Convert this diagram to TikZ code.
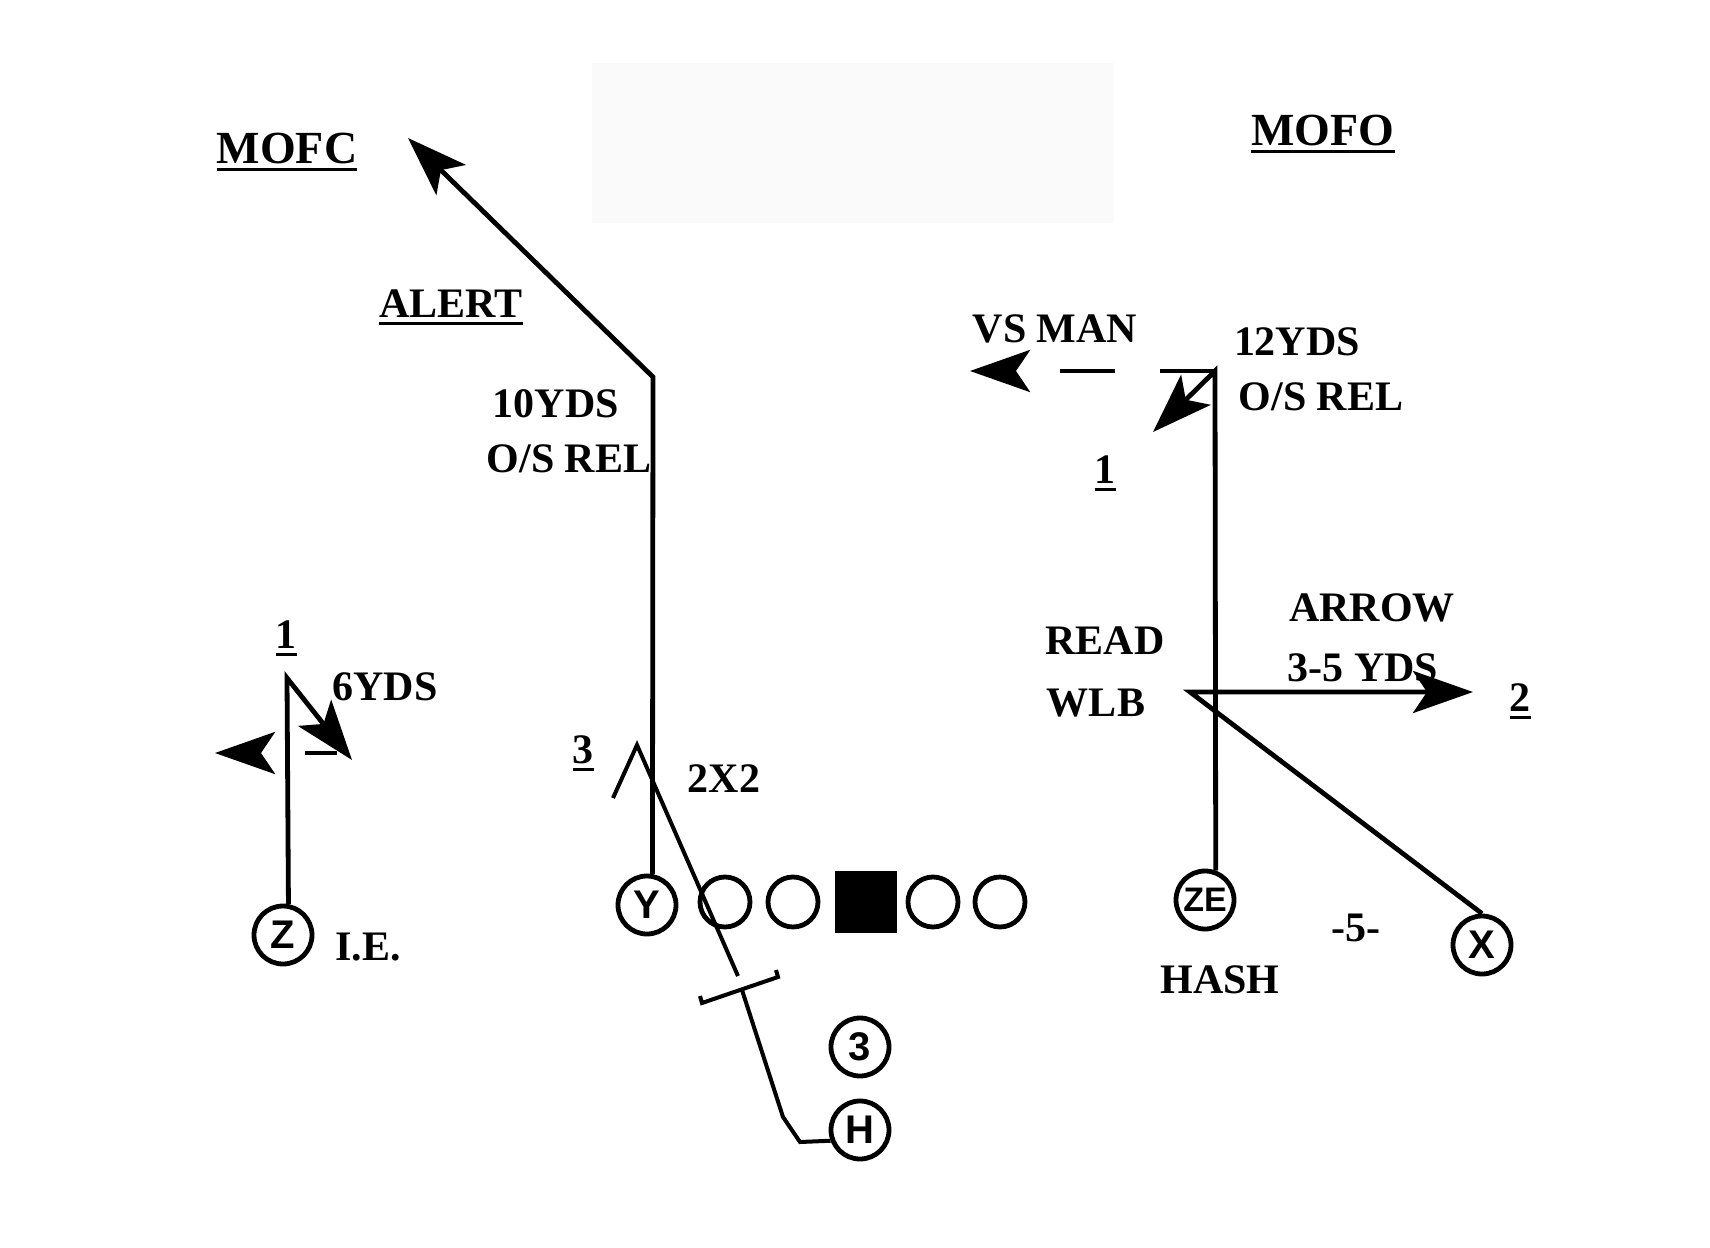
\documentclass[tikz,border=0pt]{standalone}
\usepackage{fontspec}
\setmainfont{Liberation Serif}
\setsansfont{Liberation Sans}
\usetikzlibrary{arrows.meta}
\newcommand\ulbl[1]{\setbox0\hbox{#1}\rlap{\rule[-4pt]{\wd0}{1.5pt}}\box0}

\begin{document}
\begin{tikzpicture}[x=0.5pt,y=-0.5pt,
  route/.style={line width=2.4pt},
  thinroute/.style={line width=2pt},
  bigarrow/.style={-{Stealth[length=30pt,width=21pt,inset=7pt]}},
  lbl/.style={anchor=base,inner sep=0pt,font=\fontsize{21}{25}\selectfont\bfseries},
  head/.style={lbl,font=\fontsize{23}{27}\selectfont\bfseries},
  player/.style={circle,draw,line width=2.4pt,minimum size=29pt,inner sep=0pt,
    font=\sffamily\bfseries\fontsize{20}{22}\selectfont},
  lineman/.style={circle,draw,line width=2.4pt,minimum size=25pt,inner sep=0pt}]
\useasboundingbox (0,0) rectangle (1710,1248);
\fill[black!2] (592,63) rectangle (1114,223);

% formation
\node[player] (Z) at (283,935) {Z};
\node[player] (Y) at (647,905) {Y};
\foreach \x/\n in {725/lg,793/lt,933/rt,1000/rg}
  \node[lineman] (\n) at (\x,902) {};
\node[fill,minimum size=31pt,inner sep=0pt] (C) at (866,902) {};
\node[player] (B) at (860,1047) {3};
\node[player] (H) at (860,1130) {H};
\node[player,font=\sffamily\bfseries\fontsize{17}{19}\selectfont] (ZE) at (1205,900) {ZE};
\node[player] (X) at (1482,945) {X};

% Z
\coordinate (zbreak) at (287,678);
\coordinate (ztip) at (352,760);
\coordinate (zdash) at (337,753);
\coordinate (zleft) at (215,753);
\draw[route,bigarrow] (Z.80) -- (zbreak) -- (ztip);
\draw[route,bigarrow,dash pattern=on 16pt off 60pt] (zdash) -- (zleft);

% Y
\coordinate (ybreak) at (653,377);
\coordinate (ytip) at (408,138);
\draw[route,bigarrow] (Y.80) -- (ybreak) -- (ytip);

% H
\coordinate (hleft) at (800,1142);
\coordinate (hup) at (783,1117);
\coordinate (hblock) at (742,990);
\coordinate (hend) at (738,976);
\coordinate (happex) at (637,745);
\coordinate (hback) at (613,798);
\draw[thinroute] (H.200) -- (hleft) -- (hup) -- (hblock);
\draw[thinroute] (700,996) -- (702,1003) -- (778,977) -- (776,970);
\draw[thinroute] (hend) -- (happex) -- (hback);

% ZE
\coordinate (zebreak) at (1215,371);
\coordinate (zetip) at (1153,432);
\coordinate (vstip) at (970,371);
\draw[route,bigarrow] (ZE.70) -- (zebreak) -- (zetip);
\draw[route,bigarrow,dash pattern=on 27.5pt off 22.5pt] (zebreak) -- (vstip);

% X
\coordinate (xbreak) at (1190,692);
\coordinate (xtip) at (1473,692);
\draw[route,bigarrow] (X.north) -- (xbreak) -- (xtip);

% labels
\node[head] (mofc) at (287,163) {\ulbl{MOFC}};
\node[head] (mofo) at (1323,145) {\ulbl{MOFO}};
\node[lbl] (alert) at (451,317) {\ulbl{ALERT}};
\node[lbl] (ydsY) at (556,417) {10YDS};
\node[lbl] (relY) at (569,472) {O/S REL};
\node[lbl] (oneZ) at (286,648) {\ulbl{1}};
\node[lbl] (ydsZ) at (385,700) {6YDS};
\node[lbl] (ie) at (368,960) {I.E.};
\node[lbl] (threeH) at (583,763) {\ulbl{3}};
\node[lbl] (twox) at (724,792) {2X2};
\node[lbl] (vsman) at (1055,342) {VS MAN};
\node[lbl] (ydsZE) at (1297,355) {12YDS};
\node[lbl] (relZE) at (1321,410) {O/S REL};
\node[lbl] (oneZE) at (1105,483) {\ulbl{1}};
\node[lbl] (read) at (1105,654) {READ};
\node[lbl] (wlb) at (1096,716) {WLB};
\node[lbl] (arrow) at (1372,621) {ARROW};
\node[lbl] (ydsX) at (1363,681) {3-5 YDS};
\node[lbl] (twoX) at (1520,711) {\ulbl{2}};
\node[lbl] (five) at (1356,941) {-5-};
\node[lbl] (hash) at (1220,993) {HASH};
\end{tikzpicture}
\end{document}
